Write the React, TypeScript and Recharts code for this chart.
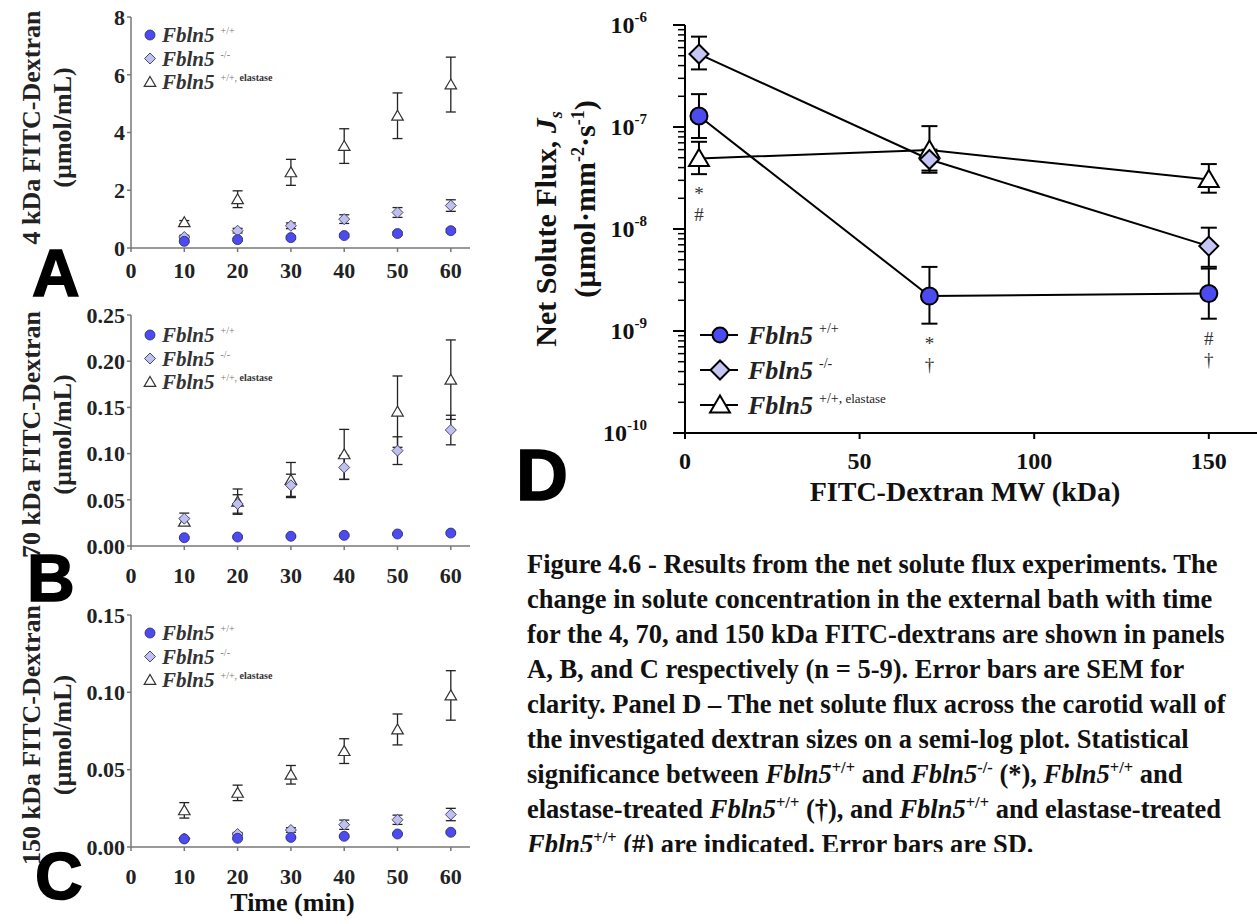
import React from 'react'
import { LineChart, Line, XAxis, YAxis, ErrorBar, Legend } from 'recharts'

const SERIF = '"Liberation Serif", "Times New Roman", serif'
const SANS = '"Liberation Sans", Arial, sans-serif'
const BLUE = '#4b4bef'
const LAVENDER = '#bfbff2'

// panels A-C: concentration vs time
const minutes = [10, 20, 30, 40, 50, 60]
const timeTicks = [0, 10, 20, 30, 40, 50, 60]

const a4Wt = [0.23, 0.29, 0.36, 0.43, 0.5, 0.6]
const a4WtErr = [0.04, 0.04, 0.05, 0.05, 0.05, 0.06]
const a4Ko = [0.38, 0.6, 0.77, 1.0, 1.23, 1.47]
const a4KoErr = [0.06, 0.08, 0.1, 0.15, 0.17, 0.2]
const a4El = [0.89, 1.69, 2.62, 3.53, 4.58, 5.66]
const a4ElErr = [0.06, 0.29, 0.45, 0.6, 0.79, 0.95]

const b70Wt = [0.009, 0.0097, 0.0105, 0.0115, 0.013, 0.014]
const b70WtErr = [0.001, 0.001, 0.001, 0.001, 0.001, 0.001]
const b70Ko = [0.0296, 0.0455, 0.0657, 0.085, 0.1032, 0.1255]
const b70KoErr = [0.006, 0.01, 0.012, 0.013, 0.015, 0.016]
const b70El = [0.0263, 0.048, 0.0714, 0.0992, 0.1454, 0.18]
const b70ElErr = [0.004, 0.0137, 0.019, 0.027, 0.0386, 0.043]

const c150Wt = [0.0052, 0.0056, 0.0062, 0.0069, 0.0084, 0.0095]
const c150WtErr = [0.0005, 0.0005, 0.0005, 0.0006, 0.0006, 0.0007]
const c150Ko = [0.0055, 0.0084, 0.011, 0.0144, 0.0176, 0.021]
const c150KoErr = [0.0005, 0.001, 0.0015, 0.003, 0.003, 0.004]
const c150El = [0.0237, 0.035, 0.0467, 0.062, 0.076, 0.098]
const c150ElErr = [0.005, 0.005, 0.006, 0.008, 0.01, 0.016]

// panel D: net solute flux vs dextran MW
const dextranMw = [4, 70, 150]
const fluxWt = [1.28e-7, 2.2e-9, 2.33e-9]
const fluxWtErr = [[5.0e-8, 8.2e-8], [1.02e-9, 2.05e-9], [1.01e-9, 1.76e-9]]
const fluxKo = [5.19e-7, 4.8e-8, 6.8e-9]
const fluxKoErr = [[1.52e-7, 2.5e-7], [1.24e-8, 1.2e-8], [2.54e-9, 3.5e-9]]
const fluxEl = [4.92e-8, 5.94e-8, 3.06e-8]
const fluxElErr = [[1.47e-8, 2.24e-8], [2.2e-8, 4.26e-8], [0.79e-8, 1.27e-8]]
const sigUpper = ['*', '*', '#']
const sigLower = ['#', '†', '†']
const mwTicks = [0, 50, 100, 150]
const fluxDecades = [1e-10, 1e-9, 1e-8, 1e-7, 1e-6]
const minorSteps = [2, 3, 4, 5, 6, 7, 8, 9]

const legendSups = ['+/+', '-/-', '+/+,']
const legendExtra = ['', '', ' elastase']

function timeTable(wt: number[], wtErr: number[], ko: number[], koErr: number[], el: number[], elErr: number[]) {
  return minutes.map((t, i) => ({ t, wt: wt[i], wtErr: wtErr[i], ko: ko[i], koErr: koErr[i], el: el[i], elErr: elErr[i] }))
}

const dTable = dextranMw.map((mw, i) => {
  const lows = [fluxWt[i] - fluxWtErr[i][0], fluxKo[i] - fluxKoErr[i][0], fluxEl[i] - fluxElErr[i][0]]
  return {
    mw,
    wt: fluxWt[i], wtErr: fluxWtErr[i],
    ko: fluxKo[i], koErr: fluxKoErr[i],
    el: fluxEl[i], elErr: fluxElErr[i],
    anchor: Math.min(...lows),
    s1: sigUpper[i], s2: sigLower[i],
  }
})

const fluxTicks: number[] = []
fluxDecades.forEach((d, i) => {
  fluxTicks.push(d)
  if (i < fluxDecades.length - 1) minorSteps.forEach((m) => fluxTicks.push(d * m))
})

const diamond = (x: number, y: number, s: number) => `M${x},${y - s}L${x + s},${y}L${x},${y + s}L${x - s},${y}Z`
const triangle = (x: number, y: number, s: number) =>
  `M${x},${y - s}L${x + s * 1.05},${y + s * 0.8}L${x - s * 1.05},${y + s * 0.8}Z`

const smallMarks: Record<string, (x: number, y: number) => React.ReactNode> = {
  wt: (x, y) => <circle cx={x} cy={y} r={5} fill={BLUE} stroke="#2a2a6a" strokeWidth={0.8} />,
  ko: (x, y) => <path d={diamond(x, y, 5.5)} fill={LAVENDER} stroke="#4a4a6a" strokeWidth={1} />,
  el: (x, y) => <path d={triangle(x, y, 5.5)} fill="#fff" stroke="#333" strokeWidth={1.2} />,
}

const bigMarks: Record<string, (x: number, y: number) => React.ReactNode> = {
  wt: (x, y) => <circle cx={x} cy={y} r={8.5} fill={BLUE} stroke="#000" strokeWidth={2} />,
  ko: (x, y) => <path d={diamond(x, y, 9.5)} fill="#c6c6f6" stroke="#000" strokeWidth={2} />,
  el: (x, y) => <path d={triangle(x, y, 9.5)} fill="#fff" stroke="#000" strokeWidth={2} />,
}

const seriesKeys = ['el', 'ko', 'wt']

function SmallLegend() {
  const order = ['wt', 'ko', 'el']
  return (
    <svg width={170} height={75} style={{ overflow: 'visible' }}>
      {order.map((k, i) => (
        <g key={k}>
          {smallMarks[k](10, 10 + i * 23.5)}
          <text x={22} y={10 + i * 23.5 + 7} fontFamily={SERIF} fontSize={21} fontWeight="bold" fontStyle="italic" fill="#333">
            Fbln5
            <tspan dx={6} dy={-8} fontSize={10} fontStyle="normal" fontWeight="normal" fill="#777">{legendSups[i]}</tspan>
            {legendExtra[i] && <tspan fontSize={10} fontStyle="normal" fontWeight="bold" fill="#333">{legendExtra[i]}</tspan>}
          </text>
        </g>
      ))}
    </svg>
  )
}

function BigLegend() {
  const order = ['wt', 'ko', 'el']
  return (
    <svg width={240} height={105} style={{ overflow: 'visible' }}>
      {order.map((k, i) => {
        const y = 12 + i * 35
        return (
          <g key={k}>
            <line x1={0} x2={38} y1={y} y2={y} stroke="#000" strokeWidth={2} />
            {k === 'wt' ? <circle cx={20} cy={y} r={7.5} fill={BLUE} stroke="#000" strokeWidth={2} /> : bigMarks[k](20, y)}
            <text x={48} y={y + 9} fontFamily={SERIF} fontSize={26} fontWeight="bold" fontStyle="italic" fill="#222">
              Fbln5
              <tspan dx={6} dy={-11} fontSize={14} fontStyle="normal" fontWeight="normal">{legendSups[i]}</tspan>
              {legendExtra[i] && <tspan fontSize={13} fontStyle="normal" fontWeight="normal">{legendExtra[i]}</tspan>}
            </text>
          </g>
        )
      })}
    </svg>
  )
}

const tickFont = { fontFamily: SERIF, fontSize: 22, fontWeight: 'bold', fill: '#222' }

type PanelProps = {
  top: number
  height: number
  plotTop: number
  xAxisHeight: number
  data: ReturnType<typeof timeTable>
  yMax: number
  yTicks: number[]
  digits: number
  title: string
  titleDy: number
  xGap: number
  legendTop: number
  showTime?: boolean
}

function TimePanel(p: PanelProps) {
  const titleContent = (props: any) => {
    const vb = props.viewBox
    const cy = vb.y + vb.height / 2 + p.titleDy
    return (
      <g fontFamily={SERIF} fontWeight="bold" fill="#222" fontSize={26}>
        <text x={40} y={cy} textAnchor="middle" transform={`rotate(-90 40 ${cy})`}>{p.title}</text>
        <text x={71} y={cy} textAnchor="middle" transform={`rotate(-90 71 ${cy})`}>(µmol/mL)</text>
      </g>
    )
  }
  const timeContent = (props: any) => {
    const vb = props.viewBox
    return (
      <text x={vb.x + vb.width / 2 - 8} y={vb.y + 64} textAnchor="middle" fontFamily={SERIF} fontWeight="bold" fontSize={26} fill="#111">
        Time (min)
      </text>
    )
  }
  return (
    <div style={{ position: 'absolute', left: 0, top: p.top }}>
      <LineChart width={480} height={p.height} data={p.data} margin={{ top: p.plotTop, right: 10, bottom: 0, left: 0 }}>
        <XAxis
          dataKey="t"
          type="number"
          domain={[0, 63.6]}
          allowDataOverflow
          ticks={timeTicks}
          height={p.xAxisHeight}
          tickSize={4}
          tickMargin={p.xGap}
          axisLine={{ stroke: '#777', strokeWidth: 1.5 }}
          tickLine={{ stroke: '#777', strokeWidth: 1.5 }}
          tick={tickFont}
          label={p.showTime ? { content: timeContent } : undefined}
        />
        <YAxis
          type="number"
          domain={[0, p.yMax]}
          allowDataOverflow
          ticks={p.yTicks}
          tickFormatter={(v: number) => v.toFixed(p.digits)}
          width={131}
          tickSize={4}
          tickMargin={2}
          axisLine={{ stroke: '#777', strokeWidth: 1.5 }}
          tickLine={{ stroke: '#777', strokeWidth: 1.5 }}
          tick={tickFont}
          label={{ content: titleContent }}
        />
        {seriesKeys.map((k) => (
          <Line
            key={k}
            dataKey={k}
            stroke="none"
            isAnimationActive={false}
            dot={(d: any) => <g key={`${k}${d.index}`}>{smallMarks[k](d.cx, d.cy)}</g>}
            activeDot={false}
          >
            <ErrorBar dataKey={`${k}Err`} direction="y" width={5} stroke="#222" strokeWidth={1.3} />
          </Line>
        ))}
        <Legend
          layout="vertical"
          align="center"
          verticalAlign="middle"
          content={() => <SmallLegend />}
          wrapperStyle={{ left: 140, top: p.legendTop, width: 170, height: 75 }}
        />
      </LineChart>
    </div>
  )
}

const isDecade = (v: number) => Math.abs(Math.log10(v) - Math.round(Math.log10(v))) < 1e-6

function FluxTick(props: any) {
  const { x, y, payload } = props
  const v = payload.value
  if (!isDecade(v)) return <line x1={x + 5} x2={x + 12} y1={y} y2={y} stroke="#000" strokeWidth={1.5} />
  return (
    <g>
      <line x1={x} x2={x + 12} y1={y} y2={y} stroke="#000" strokeWidth={2} />
      <text x={x - 26} y={y + 8} textAnchor="end" fontFamily={SERIF} fontWeight="bold" fontSize={24} fill="#111">
        10<tspan dy={-11} fontSize={15}>{String(Math.round(Math.log10(v)))}</tspan>
      </text>
    </g>
  )
}

function MwTick(props: any) {
  const { x, y, payload } = props
  return (
    <text x={x} y={y + 28} textAnchor="middle" fontFamily={SERIF} fontWeight="bold" fontSize={24} fill="#111">
      {payload.value}
    </text>
  )
}

function FluxPanel() {
  const xTitle = (props: any) => {
    const vb = props.viewBox
    return (
      <text x={965 - 500} y={vb.y + 68} textAnchor="middle" fontFamily={SERIF} fontWeight="bold" fontSize={28} fill="#111">
        FITC-Dextran MW (kDa)
      </text>
    )
  }
  const yTitle = (props: any) => {
    const vb = props.viewBox
    const cy = vb.y + vb.height / 2
    return (
      <g fontFamily={SERIF} fontWeight="bold" fill="#111" fontSize={30}>
        <text x={56} y={cy} textAnchor="middle" transform={`rotate(-90 56 ${cy})`}>
          Net Solute Flux, <tspan fontStyle="italic">J</tspan>
          <tspan fontStyle="italic" fontSize={18} dy={6}>s</tspan>
        </text>
        <text x={95} y={cy - 30} textAnchor="middle" transform={`rotate(-90 95 ${cy - 30})`}>
          (µmol·mm<tspan fontSize={18} dy={-11}>-2</tspan>
          <tspan dy={11}>·s</tspan>
          <tspan fontSize={18} dy={-11}>-1</tspan>
          <tspan dy={11}>)</tspan>
        </text>
      </g>
    )
  }
  return (
    <div style={{ position: 'absolute', left: 500, top: 0 }}>
      <LineChart width={757} height={520} data={dTable} margin={{ top: 25, right: 0, bottom: 0, left: 0 }}>
        <XAxis
          dataKey="mw"
          type="number"
          domain={[0, 163.8]}
          allowDataOverflow
          ticks={mwTicks}
          height={87}
          tickSize={6}
          tickMargin={2}
          axisLine={{ stroke: '#000', strokeWidth: 2 }}
          tickLine={{ stroke: '#000', strokeWidth: 2 }}
          tick={<MwTick />}
          label={{ content: xTitle }}
        />
        <YAxis
          scale="log"
          type="number"
          domain={[1e-10, 1e-6]}
          allowDataOverflow
          ticks={fluxTicks}
          interval={0}
          width={185}
          tickSize={12}
          tickMargin={0}
          tickLine={false}
          axisLine={{ stroke: '#000', strokeWidth: 2 }}
          tick={<FluxTick />}
          label={{ content: yTitle }}
        />
        {seriesKeys.map((k) => (
          <Line
            key={k}
            dataKey={k}
            type="linear"
            stroke="#000"
            strokeWidth={2}
            isAnimationActive={false}
            dot={(d: any) => <g key={`${k}${d.index}`}>{bigMarks[k](d.cx, d.cy)}</g>}
            activeDot={false}
          >
            <ErrorBar dataKey={`${k}Err`} direction="y" width={8} stroke="#000" strokeWidth={2} />
          </Line>
        ))}
        <Line
          dataKey="anchor"
          stroke="none"
          isAnimationActive={false}
          activeDot={false}
          dot={(d: any) => (
            <g key={`sig${d.index}`} fontFamily={SERIF} fontSize={19} fill="#333" textAnchor="middle">
              <text x={d.cx} y={d.cy + 26}>{d.payload.s1}</text>
              <text x={d.cx} y={d.cy + 47}>{d.payload.s2}</text>
            </g>
          )}
        />
        <Legend
          layout="vertical"
          align="center"
          verticalAlign="middle"
          content={() => <BigLegend />}
          wrapperStyle={{ left: 200, top: 323, width: 240, height: 105 }}
        />
      </LineChart>
    </div>
  )
}

const F = ({ s }: { s: string }) => (
  <>
    <i>Fbln5</i>
    <span style={{ fontSize: '0.62em', position: 'relative', top: '-0.62em' }}>{s}</span>
  </>
)

const captionLines: React.ReactNode[] = [
  'Figure 4.6 - Results from the net solute flux experiments. The',
  'change in solute concentration in the external bath with time',
  'for the 4, 70, and 150 kDa FITC-dextrans are shown in panels',
  'A, B, and C respectively (n = 5-9). Error bars are SEM for',
  'clarity. Panel D – The net solute flux across the carotid wall of',
  'the investigated dextran sizes on a semi-log plot. Statistical',
  <>significance between <F s="+/+" /> and <F s="-/-" /> (*), <F s="+/+" /> and</>,
  <>elastase-treated <F s="+/+" /> (†), and <F s="+/+" /> and elastase-treated</>,
  <><F s="+/+" /> (#) are indicated. Error bars are SD.</>,
]

export default function App() {
  return (
    <div style={{ position: 'absolute', left: 0, top: 0, width: 1257, height: 924, background: '#fff', overflow: 'hidden' }}>
      <TimePanel top={0} height={300} plotTop={17} xAxisHeight={52} data={timeTable(a4Wt, a4WtErr, a4Ko, a4KoErr, a4El, a4ElErr)}
        yMax={8} yTicks={[0, 2, 4, 6, 8]} digits={0} title="4 kDa FITC-Dextran" titleDy={-5} xGap={10} legendTop={25} />
      <TimePanel top={290} height={300} plotTop={25} xAxisHeight={44} data={timeTable(b70Wt, b70WtErr, b70Ko, b70KoErr, b70El, b70ElErr)}
        yMax={0.25} yTicks={[0, 0.05, 0.1, 0.15, 0.2, 0.25]} digits={2} title="70 kDa FITC-Dextran" titleDy={4} xGap={17} legendTop={35} />
      <TimePanel top={590} height={334} plotTop={25} xAxisHeight={77} data={timeTable(c150Wt, c150WtErr, c150Ko, c150KoErr, c150El, c150ElErr)}
        yMax={0.15} yTicks={[0, 0.05, 0.1, 0.15]} digits={2} title="150 kDa FITC-Dextran" titleDy={4} xGap={17} legendTop={33} showTime />
      <FluxPanel />
      <svg width={1257} height={924} style={{ position: 'absolute', left: 0, top: 0, pointerEvents: 'none' }}>
        <g fontFamily={SANS} fontWeight="bold" fill="#000" stroke="#000" strokeWidth={1.5}>
          <text x={32} y={296} fontSize={66}>A</text>
          <text x={27} y={601} fontSize={66}>B</text>
          <text x={35} y={899} fontSize={66}>C</text>
          <text x={516} y={500} fontSize={72}>D</text>
        </g>
      </svg>
      <div style={{ position: 'absolute', left: 527, top: 547, width: 730, height: 305, overflow: 'hidden', fontFamily: SERIF, fontWeight: 'bold', fontSize: 26.5, color: '#111' }}>
        {captionLines.map((l, i) => (
          <div key={i} style={{ height: 35, lineHeight: '35px', whiteSpace: 'nowrap' }}>{l}</div>
        ))}
      </div>
    </div>
  )
}
